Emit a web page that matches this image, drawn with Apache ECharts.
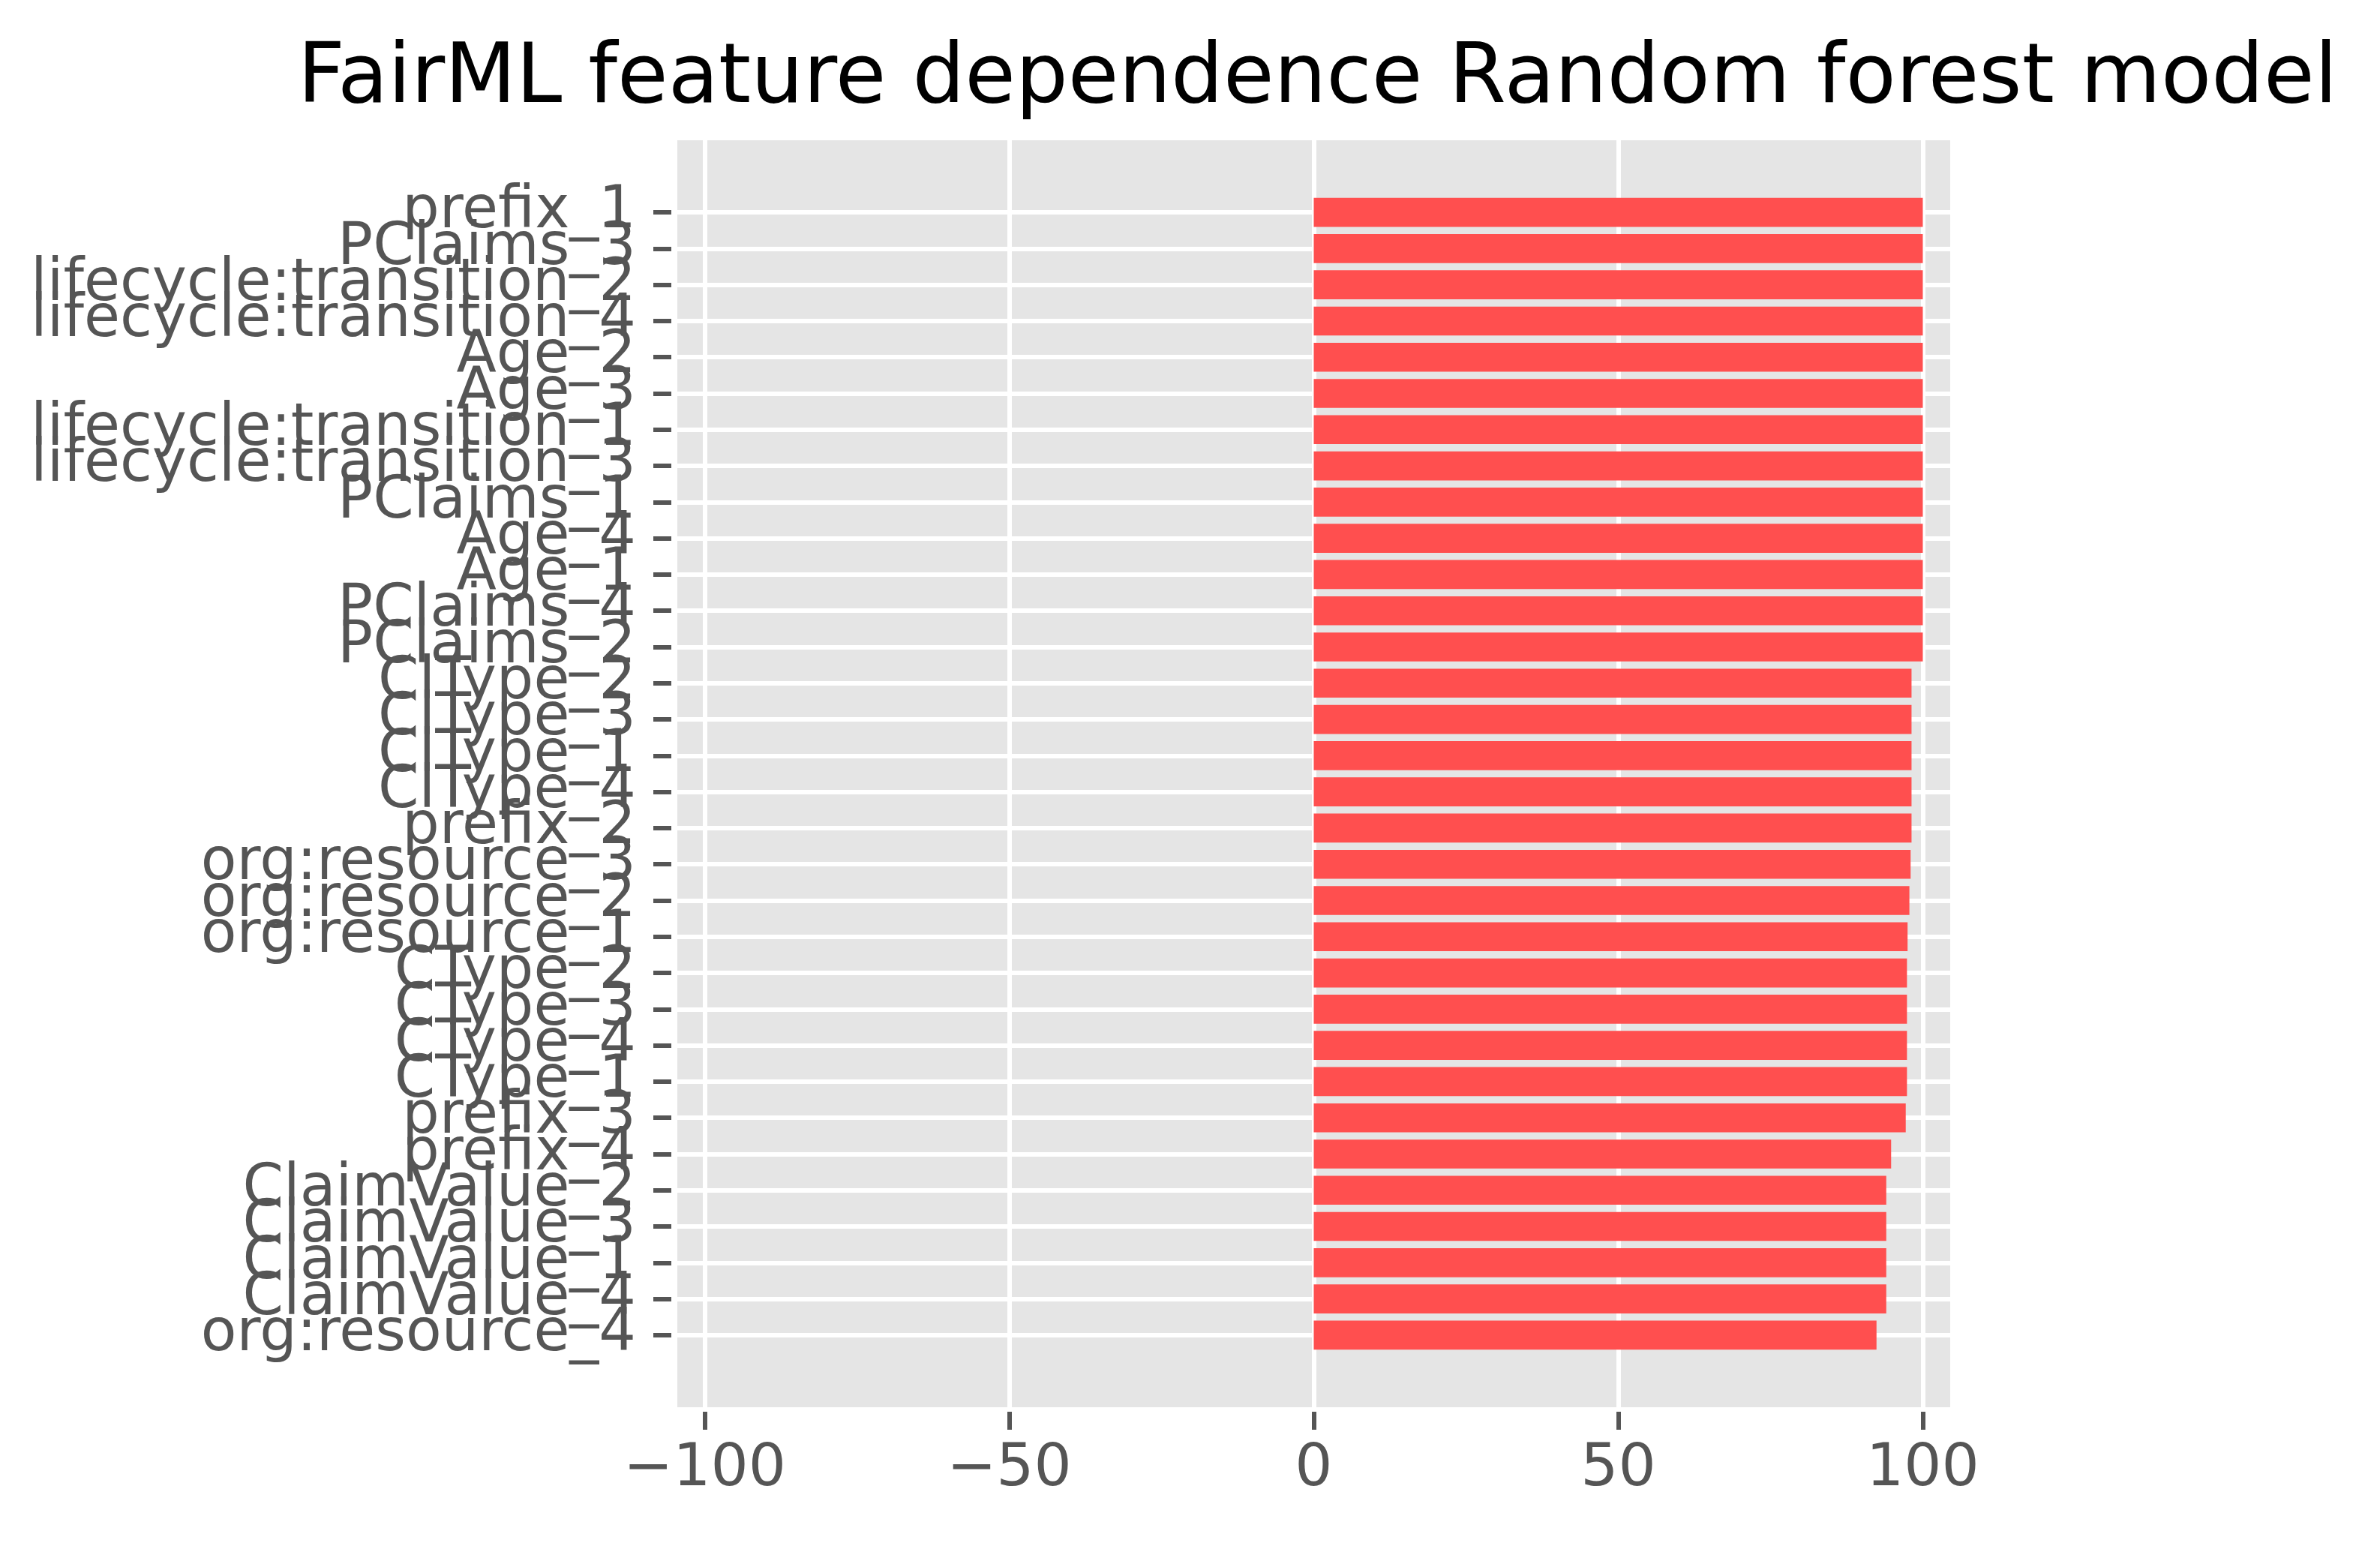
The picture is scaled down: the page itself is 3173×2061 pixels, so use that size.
<!DOCTYPE html>
<html>
<head>
<meta charset="utf-8">
<script src="https://cdn.jsdelivr.net/npm/echarts@6/dist/echarts.min.js"></script>
<style>
  html, body { margin: 0; padding: 0; background: #fff; }
  #chart { width: 3173px; height: 2061px; }
</style>
</head>
<body>
<div id="chart"></div>
<script>
// features, top to bottom
const features = [
    'prefix_1', 'PClaims_3', 'lifecycle:transition_2', 'lifecycle:transition_4',
    'Age_2', 'Age_3', 'lifecycle:transition_1', 'lifecycle:transition_3',
    'PClaims_1', 'Age_4', 'Age_1', 'PClaims_4', 'PClaims_2',
    'ClType_2', 'ClType_3', 'ClType_1', 'ClType_4', 'prefix_2',
    'org:resource_3', 'org:resource_2', 'org:resource_1',
    'CType_2', 'CType_3', 'CType_4', 'CType_1',
    'prefix_3', 'prefix_4',
    'ClaimValue_2', 'ClaimValue_3', 'ClaimValue_1', 'ClaimValue_4',
    'org:resource_4'
];
const dependence = [
    100, 100, 100, 100,
    100, 100, 100, 100,
    100, 100, 100, 100, 100,
    98.15, 98.15, 98.15, 98.15, 98.15,
    98.0, 97.8, 97.5,
    97.4, 97.4, 97.4, 97.4,
    97.2, 94.8,
    94.0, 94.0, 94.0, 94.0,
    92.4
];
const xTicks = [-100, -50, 0, 50, 100];
const xMin = -104.5;
const xMax = 104.5;

let myChart = echarts.init(document.getElementById('chart'));

// axes box like matplotlib
const W = 3173, Ht = 2061;
const axLeft = 903, axRight = 2600, axTop = 187, axBottom = 1876;
const axH = axBottom - axTop;
// barh: height 0.8, 5% y margins
const span = (features.length - 1 + 0.8) * 1.1;
const pitch = axH / span;
const pad = (span - (features.length - 1)) / 2 * pitch;

const font = 'DejaVu Sans';
const grey = '#555555';

let option = {
    backgroundColor: '#ffffff',
    animation: false,
    title: {
        text: 'FairML feature dependence Random forest model',
        left: (axLeft + axRight) / 2,
        textAlign: 'center',
        top: 47,
        textStyle: {
            fontFamily: font,
            fontSize: 110,
            fontWeight: 'normal',
            color: '#000000'
        }
    },
    grid: [
        {
            left: axLeft, right: W - axRight, top: axTop, bottom: Ht - axBottom,
            show: true, backgroundColor: '#E5E5E5', borderWidth: 0
        },
        {
            left: axLeft, right: W - axRight, top: axTop + pad, bottom: Ht - axBottom + pad
        }
    ],
    xAxis: [
        {
            gridIndex: 0,
            type: 'value',
            min: xMin,
            max: xMax,
            offset: 6,
            axisLine: { show: false, onZero: false },
            axisTick: {
                show: true, length: 24, customValues: xTicks,
                lineStyle: { color: grey, width: 6 }
            },
            axisLabel: {
                customValues: xTicks,
                margin: 38,
                fontFamily: font,
                fontSize: 79,
                color: grey,
                formatter: v => (v < 0 ? '\u2212' + Math.abs(v) : String(v))
            },
            splitLine: { show: true, lineStyle: { color: '#ffffff', width: 6 } }
        },
        {
            gridIndex: 1,
            type: 'value',
            min: xMin,
            max: xMax,
            show: false
        }
    ],
    yAxis: [
        {
            gridIndex: 0,
            type: 'value',
            show: false,
            axisLine: { onZero: false },
            splitLine: { show: false }
        },
        {
            gridIndex: 1,
            type: 'category',
            data: features,
            inverse: true,
            boundaryGap: false,
            position: 'left',
            offset: 8,
            axisLine: { show: false, onZero: false },
            axisTick: {
                show: true, length: 24, interval: 0,
                lineStyle: { color: grey, width: 6 }
            },
            axisLabel: {
                interval: 0,
                margin: 47,
                fontFamily: font,
                fontSize: 78,
                color: grey
            },
            splitLine: { show: true, interval: 0, lineStyle: { color: '#ffffff', width: 6 } }
        }
    ],
    series: [
        {
            name: 'dependence',
            type: 'bar',
            xAxisIndex: 1,
            yAxisIndex: 1,
            data: dependence,
            barWidth: '80%',
            itemStyle: { color: '#FF4F4F' }
        }
    ]
};

myChart.setOption(option);
</script>
</body>
</html>
